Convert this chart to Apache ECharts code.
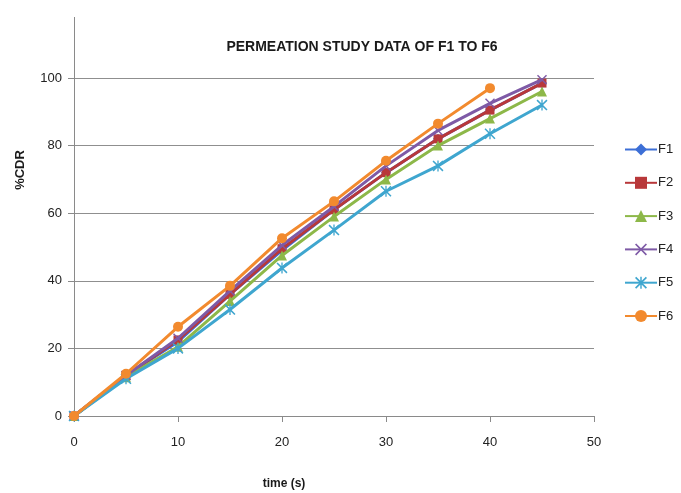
<!DOCTYPE html>
<html><head><meta charset="utf-8">
<script src="https://cdn.jsdelivr.net/npm/echarts@6/dist/echarts.min.js"></script>
<style>html,body{margin:0;padding:0;background:#fff}#c{width:681px;height:493px}</style>
</head><body><div id="c"></div>
<script>
const times = [0, 5, 10, 15, 20, 25, 30, 35, 40, 45];
const F1 = [0, 12, 22, 36, 49, 61, 72, 82, 90.5, 98.5];
const F2 = [0, 12, 22.5, 36, 49.5, 61, 72, 82, 90.5, 98.5];
const F3 = [0, 11.5, 20.5, 34, 47.5, 59, 70, 80, 88, 96];
const F4 = [0, 12, 23, 37, 50.5, 62, 74, 84.5, 92.5, 99.5];
const F5 = [0, 11, 20, 31.5, 43.8, 55, 66.5, 74, 83.5, 92];
const F6 = [0, 12.5, 26.4, 38.5, 52.6, 63.5, 75.5, 86.5, 97];
const seriesNames = ['F1','F2','F3','F4','F5','F6'];
const xTicks = [0, 10, 20, 30, 40, 50];
const yTicks = [0, 20, 40, 60, 80, 100];

const FONT = "'Liberation Sans Narrow', 'Liberation Sans', sans-serif";
const xShape = 'path://M0,1L1,0L5,4L9,0L10,1L6,5L10,9L9,10L5,6L1,10L0,9L4,5Z';
const starShape = 'path://M0,1L1,0L5,4L9,0L10,1L6,5L10,9L9,10L5,6L1,10L0,9L4,5ZM4.4,0L5.6,0L5.6,10L4.4,10Z';
const styles = [
  {color:'#3D6FD6', symbol:'diamond', size:10},
  {color:'#B8383A', symbol:'rect', size:9},
  {color:'#8DB849', symbol:'triangle', size:10},
  {color:'#7E5AA6', symbol:xShape, size:10},
  {color:'#3FA6CF', symbol:starShape, size:11},
  {color:'#F28A2E', symbol:'circle', size:10}
];
const all = [F1,F2,F3,F4,F5,F6];
const series = all.map((vals, i) => ({
  name: seriesNames[i],
  type: 'line',
  data: vals.map((v, j) => [times[j], v]),
  symbol: styles[i].symbol,
  symbolSize: styles[i].size,
  showAllSymbol: true,
  lineStyle: {color: styles[i].color, width: 3},
  itemStyle: {color: styles[i].color},
  emphasis: {disabled: true},
  z: 2 + i
}));

const chart = echarts.init(document.getElementById('c'), null, {renderer:'canvas'});
chart.setOption({
  animation: false,
  backgroundColor: '#ffffff',
  title: {
    text: 'PERMEATION STUDY DATA OF F1 TO F6',
    left: 357, top: 35, textAlign: 'center',
    textStyle: {fontFamily: FONT, fontSize: 14, fontWeight: 'bold', color: '#1a1a1a'}
  },
  legend: {
    orient: 'vertical', left: 619, top: 138,
    itemWidth: 32, itemHeight: 15, itemGap: 20.3,
    data: seriesNames,
    textStyle: {fontFamily: FONT, fontSize: 13, color: '#222', padding: [0,0,0,-4]}
  },
  grid: {left: 74, right: 87, top: 78, bottom: 77, containLabel: false, outerBoundsMode: 'none'},
  xAxis: {
    type: 'value', min: xTicks[0], max: xTicks[xTicks.length-1], interval: 10,
    name: 'time (s)', nameLocation: 'middle', nameGap: 62,
    nameTextStyle: {fontFamily: FONT, fontSize: 12, fontWeight: 'bold', color: '#1a1a1a', padding: [0,100,0,0]},
    axisLine: {show: true, lineStyle: {color: '#8a8a8a', width: 1}},
    axisTick: {show: true, inside: false, length: 6, lineStyle: {color: '#8a8a8a'}},
    axisLabel: {fontFamily: FONT, fontSize: 13, color: '#222', margin: 20},
    splitLine: {show: false}
  },
  yAxis: {
    type: 'value', min: yTicks[0], max: yTicks[yTicks.length-1], interval: 20,
    name: '%CDR', nameLocation: 'middle', nameGap: 47, nameRotate: 90,
    nameTextStyle: {fontFamily: FONT, fontSize: 13, fontWeight: 'bold', color: '#1a1a1a', padding: [0,0,0,154]},
    axisLine: {show: true, lineStyle: {color: '#8a8a8a', width: 1}},
    axisTick: {show: true, inside: false, length: 6, lineStyle: {color: '#8a8a8a'}},
    axisLabel: {fontFamily: FONT, fontSize: 13, color: '#222', margin: 12},
    splitLine: {show: true, lineStyle: {color: '#8f8f8f', width: 1}}
  },
  graphic: [{
    type: 'line', shape: {x1: 74.5, y1: 17, x2: 74.5, y2: 78},
    style: {stroke: '#8a8a8a', lineWidth: 1}, silent: true
  }],
  series: series
});
</script></body></html>
